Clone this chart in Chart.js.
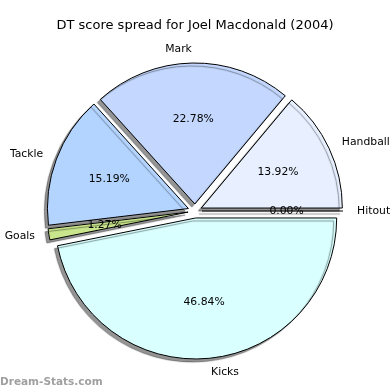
<!DOCTYPE html>
<html>
<head>
<meta charset="utf-8">
<script src="https://cdn.jsdelivr.net/npm/chart.js@4.4.1/dist/chart.umd.min.js"></script>
<style>
    html, body { margin: 0; padding: 0; background: #fff; }
    canvas { display: block; }
</style>
</head>
<body>
<canvas id="score-spread" width="390" height="390"></canvas>
<script>
// slices go clockwise from 3 o'clock here (the original went the other way round)
const categories  = ['Hitout', 'Kicks', 'Goals', 'Tackle', 'Mark', 'Handball'];
const shares      = [0.00, 46.84, 1.27, 15.19, 22.78, 13.92];
const sliceColors = ['#ffffe0', '#d9ffff', '#c9e68c', '#b3d4ff', '#c4d8ff', '#e8f0ff'];
const chartTitle  = 'DT score spread for Joel Macdonald (2004)';
const watermark   = 'Dream-Stats.com';

const pieRadius = 141;
const explode   = 7;
const font      = '"DejaVu Sans", Verdana, sans-serif';

const pieExtras = {
    id: 'pieExtras',
    beforeDatasetDraw(chart) {
        const ctx  = chart.ctx;
        const arcs = chart.getDatasetMeta(0).data;
        // push every wedge out along its middle angle, radius untouched
        arcs.forEach(arc => {
            if (arc.exploded) return;
            const draw = arc.draw;
            arc.draw = function (c, area) {
                const mid = (this.startAngle + this.endAngle) / 2;
                c.save();
                c.translate(Math.cos(mid) * explode, Math.sin(mid) * explode);
                draw.call(this, c, area);
                c.restore();
            };
            arc.exploded = true;
        });
        ctx.save();
        ctx.shadowColor   = 'rgba(0, 0, 0, 0.42)';
        ctx.shadowOffsetX = -3;
        ctx.shadowOffsetY = 3;
        ctx.shadowBlur    = 1;
        // empty slices still show up as a single edge
        arcs.forEach(arc => {
            if (arc.circumference > 0) return;
            const a = arc.startAngle;
            ctx.beginPath();
            ctx.moveTo(arc.x + Math.cos(a) * explode, arc.y + Math.sin(a) * explode);
            ctx.lineTo(arc.x + Math.cos(a) * (explode + arc.outerRadius), arc.y + Math.sin(a) * (explode + arc.outerRadius));
            ctx.strokeStyle = '#000';
            ctx.lineWidth = 1;
            ctx.stroke();
        });
    },
    afterDatasetDraw(chart) {
        chart.ctx.restore();
    },
    afterDraw(chart) {
        const ctx  = chart.ctx;
        const arcs = chart.getDatasetMeta(0).data;
        ctx.save();
        ctx.fillStyle = '#000';
        ctx.font = '10.8px ' + font;
        ctx.textBaseline = 'middle';
        arcs.forEach((arc, i) => {
            const mid = (arc.startAngle + arc.endAngle) / 2;
            const cos = Math.cos(mid);
            const sin = Math.sin(mid);
            const r   = arc.outerRadius;
            const labelDist = r * 1.1 + explode;
            const pctDist   = r * 0.6 + explode;
            ctx.textAlign = cos > 0 ? 'left' : 'right';
            ctx.fillText(categories[i], arc.x + cos * labelDist, arc.y + sin * labelDist);
            ctx.textAlign = 'center';
            ctx.fillText(shares[i].toFixed(2) + '%', arc.x + cos * pctDist, arc.y + sin * pctDist);
        });
        ctx.font = 'bold 10.5px ' + font;
        ctx.fillStyle = '#a0a0a0';
        ctx.textAlign = 'left';
        ctx.textBaseline = 'alphabetic';
        ctx.fillText(watermark, 0, 384.5);
        ctx.restore();
    }
};

const ctx = document.getElementById('score-spread').getContext('2d');
const spreadChart = new Chart(ctx, {
    type: 'pie',
    data: {
        labels: categories,
        datasets: [{
            data: shares,
            backgroundColor: sliceColors,
            borderColor: '#000',
            borderWidth: 1,
            radius: pieRadius
        }]
    },
    options: {
        responsive: false,
        animation: false,
        events: [],
        rotation: 90,
        layout: {
            padding: { top: 0, bottom: 11.6, left: 0, right: 0 }
        },
        plugins: {
            legend: { display: false },
            tooltip: { enabled: false },
            title: {
                display: true,
                text: chartTitle,
                color: '#000',
                font: { family: font, size: 13, weight: 'normal' },
                padding: { top: 18, bottom: 10 }
            }
        }
    },
    plugins: [pieExtras]
});
</script>
</body>
</html>
